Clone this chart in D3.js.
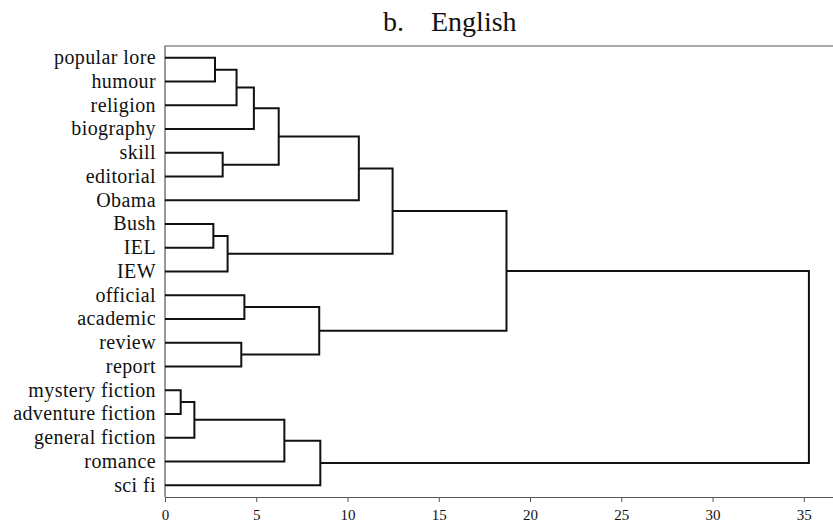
<!DOCTYPE html>
<html>
<head>
<meta charset="utf-8">
<script src="https://cdn.jsdelivr.net/npm/d3@7"></script>
<style>
  body { margin: 0; background: #fff; }
  text { font-family: "Liberation Serif", "DejaVu Serif", serif; fill: #111; }
</style>
</head>
<body>
<div id="chart"></div>
<script>
// leaves, top to bottom
const leaves = [
    "popular lore", "humour", "religion", "biography", "skill", "editorial", "Obama",
    "Bush", "IEL", "IEW", "official", "academic", "review", "report",
    "mystery fiction", "adventure fiction", "general fiction", "romance", "sci fi"
]
// linkage: cluster n = leaves.length + k for merge k
const mergeLeft   = [0, 19, 20, 4, 21, 23, 7, 25, 24, 10, 12, 28, 27, 14, 32, 33, 34, 31]
const mergeRight  = [1, 2, 3, 5, 22, 6, 8, 9, 26, 11, 13, 29, 30, 15, 16, 17, 18, 35]
const mergeHeight = [2.74, 3.92, 4.87, 3.16, 6.23, 10.62, 2.65, 3.43, 12.47, 4.35, 4.18, 8.45, 18.71, 0.86, 1.61, 6.54, 8.51, 35.28]
const xTicks = [0, 5, 10, 15, 20, 25, 30, 35]

const dimensions = {
    width: 833,
    height: 525,
    margin: { top: 46, right: 0, bottom: 28, left: 165 },
}

const svg = d3.select("#chart")
    .append("svg")
    .attr("width", dimensions.width)
    .attr("height", dimensions.height)

const xScale = d3.scaleLinear()
    .domain([0, 36.6])
    .range([dimensions.margin.left, dimensions.width])

const yScale = d3.scalePoint()
    .domain(leaves.map((d, i) => i))
    .range([dimensions.margin.top, dimensions.height - dimensions.margin.bottom])
    .padding(0.5)

// position of every node (leaves first, then clusters)
const nodeY = leaves.map((d, i) => yScale(i))
const nodeH = leaves.map(() => 0)
mergeHeight.forEach((h, k) => {
    nodeY.push((nodeY[mergeLeft[k]] + nodeY[mergeRight[k]]) / 2)
    nodeH.push(h)
})

// title
const title = svg.append("g").style("font-size", "28px")
title.append("text").attr("x", 383).attr("y", 31).text("b.")
title.append("text").attr("x", 431).attr("y", 31).text("English")

// frame
const bottomY = dimensions.height - dimensions.margin.bottom
svg.append("path")
    .attr("d", `M${dimensions.width},${dimensions.margin.top}H${dimensions.margin.left}V${bottomY}`)
    .attr("fill", "none")
    .attr("stroke", "#555")
    .attr("stroke-width", 1.2)

const xAxis = svg.append("g")
    .attr("transform", `translate(0, ${bottomY})`)
    .call(d3.axisBottom(xScale).tickValues(xTicks).tickSize(5).tickSizeOuter(0))
xAxis.select(".domain").attr("stroke", "#555").attr("stroke-width", 1.2)
xAxis.selectAll(".tick line").attr("stroke", "#555")
xAxis.selectAll(".tick text")
    .attr("y", 12)
    .style("font-family", "'Liberation Serif', serif")
    .style("font-size", "15px")
    .attr("fill", "#111")

// leaf labels
svg.append("g")
    .selectAll("text")
    .data(leaves)
    .join("text")
    .attr("x", dimensions.margin.left - 9)
    .attr("y", (d, i) => yScale(i))
    .attr("dy", "0.32em")
    .attr("text-anchor", "end")
    .style("font-size", "20px")
    .style("letter-spacing", "0.4px")
    .text(d => d)

// dendrogram links
svg.append("g")
    .selectAll("path")
    .data(mergeHeight)
    .join("path")
    .attr("d", (h, k) => {
        const a = mergeLeft[k], b = mergeRight[k]
        return `M${xScale(nodeH[a])},${nodeY[a]}H${xScale(h)}V${nodeY[b]}H${xScale(nodeH[b])}`
    })
    .attr("fill", "none")
    .attr("stroke", "#111")
    .attr("stroke-width", 2)
</script>
</body>
</html>
